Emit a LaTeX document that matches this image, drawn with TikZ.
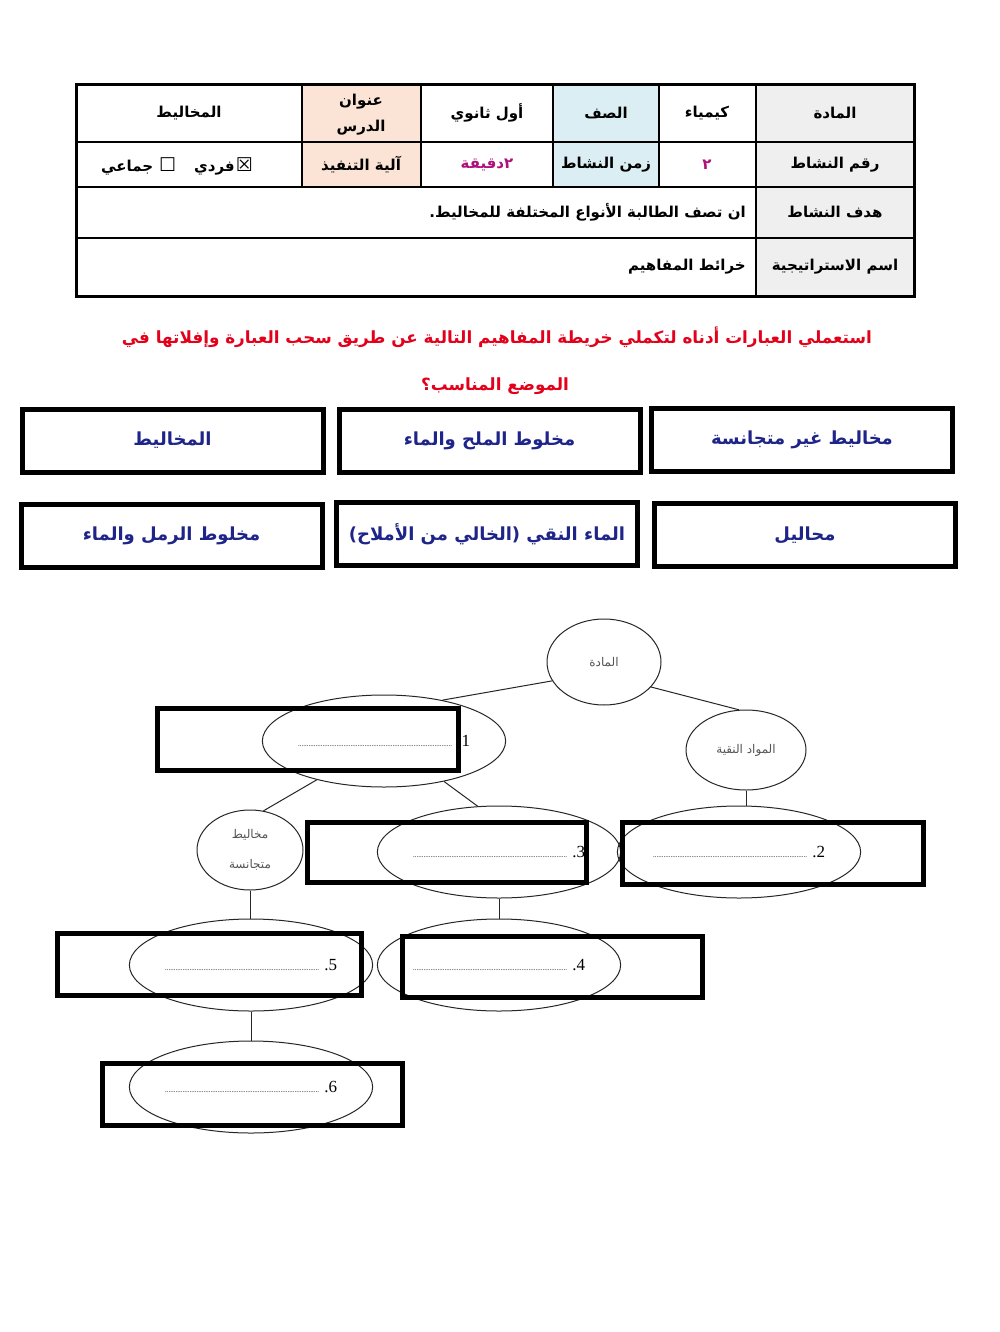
\documentclass[tikz,border=0pt]{standalone}
\usepackage{fontspec}
\usetikzlibrary{shapes.geometric}
\setmainfont{Liberation Serif}
\newfontfamily\ar[Script=Arabic]{DejaVu Sans}
\newfontfamily\sym{DejaVu Sans}
\TeXXeTstate=1
\newcommand\AR[1]{\beginR#1\endR}
\newcommand\leaderdots{\makebox[155pt]{\fontsize{7}{7}\selectfont\leaders\hbox{.}\hfill}}
\definecolor{cellgray}{HTML}{EFEFEF}
\definecolor{cellblue}{HTML}{DAEEF3}
\definecolor{cellpeach}{HTML}{FBE4D5}
\definecolor{magtext}{HTML}{B0107A}
\definecolor{redtext}{HTML}{E3001B}
\definecolor{navy}{HTML}{1E2488}
\definecolor{mapgray}{HTML}{555555}
\begin{document}
\begin{tikzpicture}[x=1pt,y=-1pt,
  cell/.style={font=\ar\bfseries\fontsize{15}{20}\selectfont, inner sep=0pt, align=center},
  instr/.style={font=\ar\bfseries\fontsize{16.8}{20}\selectfont, text=redtext, inner sep=0pt},
  choice/.style={draw=black, line width=5pt, minimum width=301pt, minimum height=63pt, inner sep=0pt,
     font=\ar\bfseries\fontsize{18}{22}\selectfont, text=navy},
  concept/.style={draw=black!85, line width=1pt, shape=ellipse, inner sep=0pt, align=center,
     font=\ar\fontsize{12}{30}\selectfont, text=mapgray},
  blank/.style={draw=black!85, line width=1pt, shape=ellipse, inner sep=0pt,
     minimum width=228pt, minimum height=92pt, font=\fontsize{17}{20}\selectfont},
  dropbox/.style={draw=black, line width=5pt, inner sep=0pt},
  link/.style={draw=black!85, line width=1pt}]
\useasboundingbox (0,0) rectangle (1000,1332);
\fill[white] (0,0) rectangle (1000,1332);

% ---------- table ----------
\fill[cellgray] (756,85) rectangle (914,296);
\fill[cellblue] (553,85) rectangle (659,187);
\fill[cellpeach] (302,85) rectangle (421,187);
\draw[line width=2pt] (76,142) -- (914,142);
\draw[line width=2pt] (76,187) -- (914,187);
\draw[line width=2pt] (76,238) -- (914,238);
\foreach \xx in {302,421,553,659} {\draw[line width=2pt] (\xx,85) -- (\xx,187);}
\draw[line width=2pt] (756,85) -- (756,296);
\draw[line width=3pt] (76,85) rectangle (914,296);

\node[cell] (t11) at (835,113) {\AR{المادة}};
\node[cell] (t12) at (707,113) {\AR{كيمياء}};
\node[cell] (t13) at (606,113) {\AR{الصف}};
\node[cell] (t14) at (487,113) {\AR{أول ثانوي}};
\node[cell] (t15) at (361,115) {\AR{عنوان}\\[6pt]\AR{الدرس}};
\node[cell] (t16) at (189,113) {\AR{المخاليط}};

\node[cell] (t21) at (835,165) {\AR{رقم النشاط}};
\node[cell, text=magtext] (t22) at (707,165) {\AR{٢}};
\node[cell] (t23) at (606,165) {\AR{زمن النشاط}};
\node[cell, text=magtext] (t24) at (487,165) {\AR{٢دقيقة}};
\node[cell] (t25) at (361,165) {\AR{آلية التنفيذ}};
\node[cell] (t26) at (177,166) {\AR{جماعي}\hspace{6pt}{\sym\mdseries\fontsize{19}{20}\selectfont ☐}\hspace{18pt}\AR{فردي}\hspace{1pt}{\sym\mdseries\fontsize{19}{20}\selectfont ☒}};

\node[cell] (t31) at (835,212) {\AR{هدف النشاط}};
\node[cell, anchor=east] (t32) at (746,212) {\AR{ان تصف الطالبة الأنواع المختلفة للمخاليط.}};
\node[cell] (t41) at (835,267) {\AR{اسم الاستراتيجية}};
\node[cell, anchor=east] (t42) at (746,267) {\AR{خرائط المفاهيم}};

% ---------- instruction ----------
\node[instr] (ins1) at (497,337) {\AR{استعملي العبارات أدناه لتكملي خريطة المفاهيم التالية عن طريق سحب العبارة  وإفلاتها في}};
\node[instr] (ins2) at (495,386) {\AR{الموضع المناسب؟}};

% ---------- choice boxes ----------
\node[choice] (bA) at (172.5,440.5) {\AR{المخاليط}};
\node[choice] (bB) at (489.5,440.5) {\AR{مخلوط الملح والماء}};
\node[choice] (bC) at (802,440) {\AR{مخاليط غير متجانسة}};
\node[choice] (bD) at (171.5,536) {\AR{مخلوط الرمل والماء}};
\node[choice] (bE) at (487,534) {\AR{الماء النقي (الخالي من الأملاح)}};
\node[choice] (bF) at (805,535) {\AR{محاليل}};

% ---------- concept map ----------
\node[concept, minimum width=114pt, minimum height=86pt] (mada) at (604,662) {\AR{المادة}};
\node[concept, minimum width=120pt, minimum height=80pt] (naqia) at (746,750) {\AR{المواد النقية}};
\node[concept, minimum width=106pt, minimum height=80pt] (mutaj) at (250,850) {\AR{مخاليط}\\\AR{متجانسة}};
\node[blank] (e1) at (384,741) {\leaderdots\ .1};
\node[blank] (e2) at (739,852) {\leaderdots\ .2};
\node[blank] (e3) at (499,852) {\leaderdots\ .3};
\node[blank] (e4) at (499,965) {\leaderdots\ .4};
\node[blank] (e5) at (251,965) {\leaderdots\ .5};
\node[blank] (e6) at (251,1087) {\leaderdots\ .6};

\draw[link] (mada.200) -- (e1.35);
\draw[link] (mada.332) -- (naqia.100);
\draw[link] (e1.210) -- (mutaj.71);
\draw[link] (e1.326) -- (e3.115);
\draw[link] (naqia.south) -- (naqia.south |- e2.north);
\draw[link] (mutaj.south) -- (mutaj.south |- e5.north);
\draw[link] (e3.south) -- (e4.north);
\draw[link] (e5.south) -- (e6.north);

% ---------- drop boxes ----------
\node[dropbox, minimum width=301pt, minimum height=62pt] (r1) at (307.5,739) {};
\node[dropbox, minimum width=301pt, minimum height=62pt] (r2) at (772.5,853) {};
\node[dropbox, minimum width=279pt, minimum height=60pt] (r3) at (446.5,852) {};
\node[dropbox, minimum width=300pt, minimum height=61pt] (r4) at (552,966.5) {};
\node[dropbox, minimum width=304pt, minimum height=62pt] (r5) at (209,964) {};
\node[dropbox, minimum width=300pt, minimum height=62pt] (r6) at (252,1094) {};
\end{tikzpicture}
\end{document}
